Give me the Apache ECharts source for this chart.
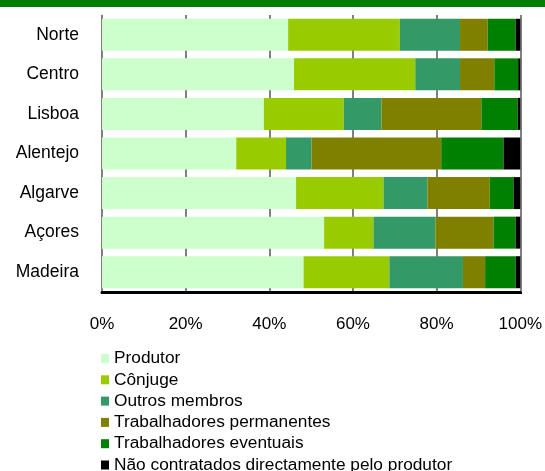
<!DOCTYPE html>
<html>
<head>
<meta charset="utf-8">
<script src="https://cdn.jsdelivr.net/npm/echarts@6/dist/echarts.min.js"></script>
<style>
html,body{margin:0;padding:0;background:#fff;}
#chart{width:545px;height:471px;}
</style>
</head>
<body>
<div id="chart"></div>
<script>
var categories = ['Norte', 'Centro', 'Lisboa', 'Alentejo', 'Algarve', 'Açores', 'Madeira'];
var seriesNames = ['Produtor', 'Cônjuge', 'Outros membros', 'Trabalhadores permanentes', 'Trabalhadores eventuais', 'Não contratados directamente pelo produtor'];
var produtor    = [44.5, 45.9, 38.7, 32.1, 46.4, 53.1, 48.2];
var conjuge     = [26.7, 29.0, 19.1, 11.9, 20.9, 11.8, 20.5];
var outros      = [14.4, 10.7, 9.0, 6.1, 10.5, 14.8, 17.6];
var permanentes = [6.6, 8.2, 23.9, 31.0, 14.9, 13.9, 5.3];
var eventuais   = [6.7, 5.7, 8.7, 14.9, 5.7, 5.3, 7.3];
var naoContratados = [1.1, 0.5, 0.6, 4.0, 1.6, 1.1, 1.1];
var xTicks = [0, 20, 40, 60, 80, 100];

var colors = ['#CCFFCC', '#99CC00', '#339966', '#808000', '#008000', '#000000'];
var values = [produtor, conjuge, outros, permanentes, eventuais, naoContratados];
var FONT = '"Liberation Sans", Arial, sans-serif';

var chart = echarts.init(document.getElementById('chart'), null, {renderer: 'canvas'});
var series = seriesNames.map(function (name, i) {
  return {
    name: name,
    type: 'bar',
    stack: 'total',
    barWidth: 32,
    z: 5,
    itemStyle: {color: colors[i]},
    data: values[i]
  };
});

chart.setOption({
  animation: false,
  color: colors,
  graphic: [{
    type: 'rect',
    left: 0, top: 0,
    shape: {x: 0, y: 0, width: 545, height: 7},
    style: {fill: '#008000'},
    silent: true
  }],
  grid: {left: 102, right: 24, top: 15, bottom: 179, containLabel: false},
  xAxis: {
    type: 'value',
    z: 0,
    min: xTicks[0],
    max: xTicks[xTicks.length - 1],
    interval: 20,
    axisLine: {show: true, lineStyle: {color: '#000', width: 3}},
    axisTick: {show: true, length: 2, lineStyle: {color: '#000', width: 2}},
    axisLabel: {
      margin: 24,
      formatter: '{value}%',
      color: '#000',
      fontFamily: FONT,
      fontSize: 17
    },
    splitLine: {show: true, lineStyle: {color: '#808080', width: 2}}
  },
  yAxis: {
    type: 'category',
    z: 0,
    data: categories,
    inverse: true,
    axisLine: {show: true, lineStyle: {color: '#808080', width: 1}},
    axisTick: {show: false},
    axisLabel: {
      margin: 23,
      color: '#000',
      fontFamily: FONT,
      fontSize: 17.5
    }
  },
  legend: {
    orient: 'vertical',
    left: 101,
    top: 350,
    height: 160,
    icon: 'rect',
    itemWidth: 8,
    itemHeight: 9,
    itemGap: 4.3,
    padding: 0,
    textStyle: {color: '#000', fontFamily: FONT, fontSize: 17.3, lineHeight: 17},
    data: seriesNames
  },
  series: series
});
</script>
</body>
</html>
